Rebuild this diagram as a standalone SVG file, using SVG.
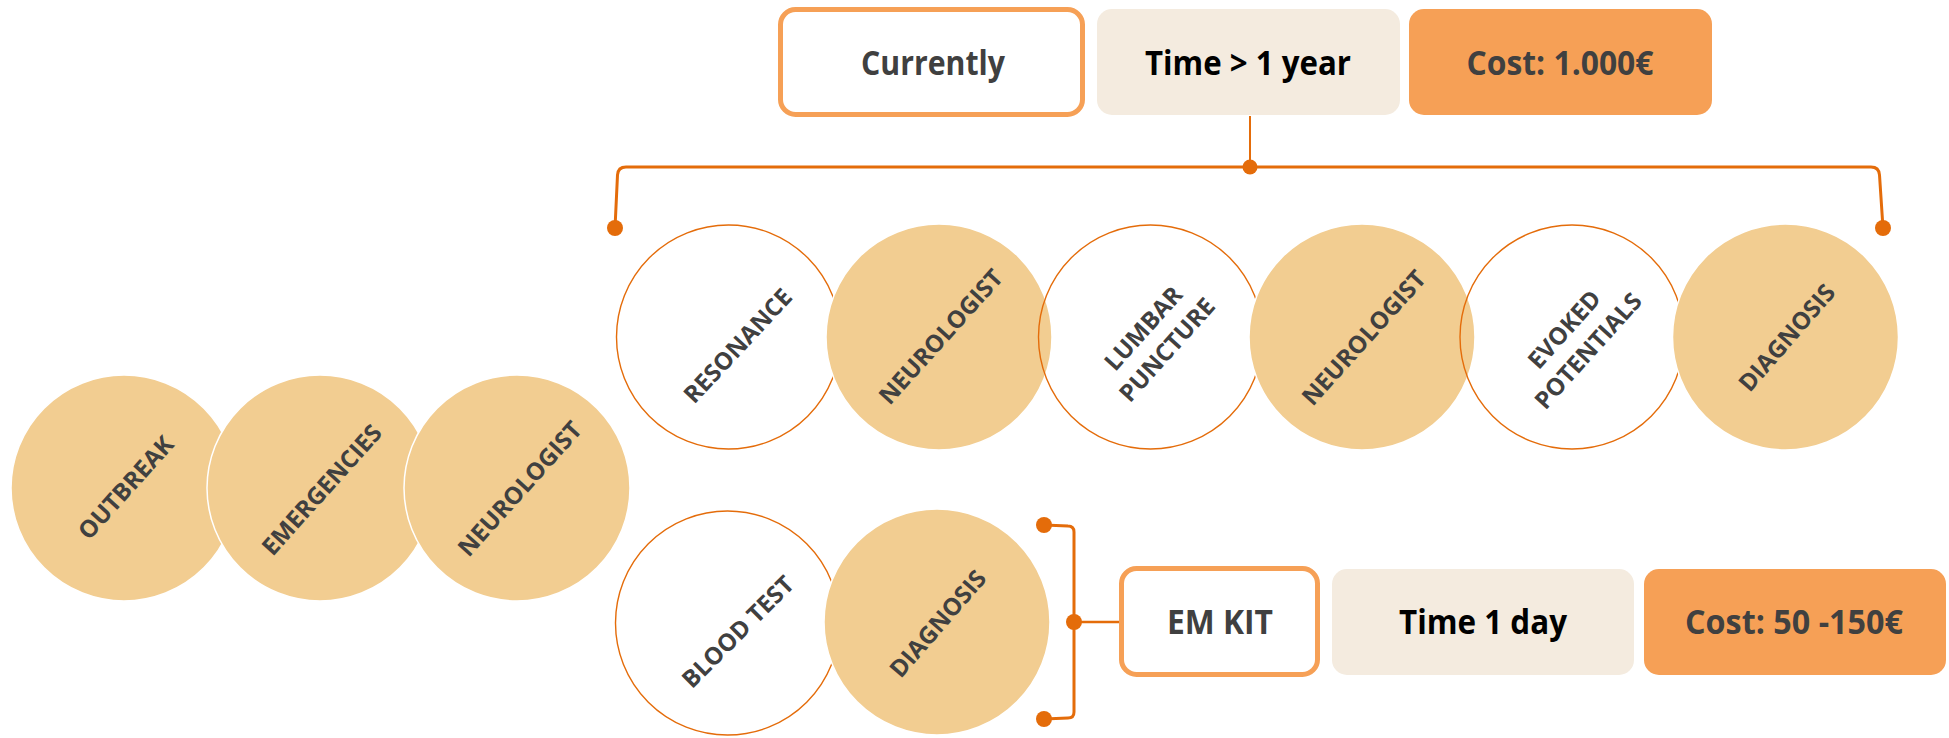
<svg xmlns="http://www.w3.org/2000/svg" width="1949" height="738" viewBox="0 0 1949 738">
<style>
.bg{fill:#ffffff}
.box-outline{fill:#ffffff;stroke:#F6A056;stroke-width:5}
.box-time{fill:#F4EBDF}
.box-cost{fill:#F6A056}
.btxt{font-family:"Open Sans","Liberation Sans",sans-serif;font-weight:700;font-size:34px;text-anchor:middle;fill:#404040}
.btxt.k{fill:#000000}
.cfill{fill:#F2CD91;stroke:#ffffff;stroke-width:1.5}
.cline{fill:none;stroke:#E46C0A;stroke-width:1.4}
.ctxt{font-family:"Open Sans","Liberation Sans",sans-serif;font-weight:700;font-size:24px;text-anchor:middle;dominant-baseline:central;fill:#404040}
.conn{fill:none;stroke:#E46C0A;stroke-width:2.5}
.dot{fill:#E46C0A}
</style>
<rect class="bg" x="0" y="0" width="1949" height="738"/>

<g id="connectors">
  <path class="conn" d="M1250,116 L1250,167" style="stroke-width:2"/>
  <path class="conn" d="M615,228 L617.5,175 Q618,167 626,167 L1871,167 Q1879,167 1879.5,175 L1883,228" style="stroke-width:3"/>
  <circle class="dot" cx="1250" cy="167" r="7.5"/>
  <circle class="dot" cx="615" cy="228" r="8"/>
  <circle class="dot" cx="1883" cy="228" r="8"/>
  <path class="conn" d="M1044,525 L1068,526 Q1074,526 1074,532 L1074,712 Q1074,718 1068,718 L1044,719" style="stroke-width:3"/>
  <path class="conn" d="M1074,622 L1119,622"/>
  <circle class="dot" cx="1044" cy="525" r="8"/>
  <circle class="dot" cx="1044" cy="719" r="8"/>
  <circle class="dot" cx="1074" cy="622" r="8"/>
</g>

<g id="currently">
  <rect class="box-outline" x="780.5" y="9.5" width="302" height="105" rx="15"/>
  <text class="btxt" x="933" y="75" textLength="144" lengthAdjust="spacingAndGlyphs">Currently</text>
</g>
<g id="time-year">
  <rect class="box-time" x="1097" y="9" width="303" height="106" rx="15"/>
  <text class="btxt k" x="1248" y="75" textLength="206" lengthAdjust="spacingAndGlyphs">Time &gt; 1 year</text>
</g>
<g id="cost-1000">
  <rect class="box-cost" x="1409" y="9" width="303" height="106" rx="15"/>
  <text class="btxt" x="1560" y="75" textLength="187" lengthAdjust="spacingAndGlyphs">Cost: 1.000€</text>
</g>

<g id="emkit">
  <rect class="box-outline" x="1121.5" y="568.5" width="196" height="106" rx="15"/>
  <text class="btxt" x="1220" y="634" textLength="106" lengthAdjust="spacingAndGlyphs">EM KIT</text>
</g>
<g id="time-day">
  <rect class="box-time" x="1332" y="569" width="302" height="106" rx="15"/>
  <text class="btxt k" x="1483" y="634" textLength="168" lengthAdjust="spacingAndGlyphs">Time 1 day</text>
</g>
<g id="cost-50">
  <rect class="box-cost" x="1644" y="569" width="302" height="106" rx="15"/>
  <text class="btxt" x="1794" y="634" textLength="218" lengthAdjust="spacingAndGlyphs">Cost: 50 -150€</text>
</g>

<!-- left row -->
<g id="outbreak">
  <circle class="cfill" cx="124" cy="488" r="113"/>
  <text class="ctxt" transform="translate(125,487) rotate(-48)">OUTBREAK</text>
</g>
<g id="emergencies">
  <circle class="cfill" cx="320" cy="488" r="113"/>
  <text class="ctxt" transform="translate(321,489) rotate(-48)">EMERGENCIES</text>
</g>
<g id="neurologist-1">
  <circle class="cfill" cx="517" cy="488" r="113"/>
  <text class="ctxt" transform="translate(519,488) rotate(-48)">NEUROLOGIST</text>
</g>

<!-- top row -->
<g id="resonance">
  <circle class="cline" cx="728.5" cy="337" r="112"/>
  <text class="ctxt" transform="translate(737,345) rotate(-47)">RESONANCE</text>
</g>
<g id="neurologist-2">
  <circle class="cfill" cx="939" cy="337" r="113"/>
  <text class="ctxt" transform="translate(940,336) rotate(-48)">NEUROLOGIST</text>
</g>
<g id="lumbar-puncture">
  <circle class="cline" cx="1150.5" cy="337" r="112"/>
  <text class="ctxt" transform="translate(1154,338) rotate(-48)"><tspan x="0" y="-16">LUMBAR</tspan><tspan x="0" y="16">PUNCTURE</tspan></text>
</g>
<g id="neurologist-3">
  <circle class="cfill" cx="1362" cy="337" r="113"/>
  <text class="ctxt" transform="translate(1363,337) rotate(-48)">NEUROLOGIST</text>
</g>
<g id="evoked-potentials">
  <circle class="cline" cx="1572" cy="337" r="112"/>
  <text class="ctxt" transform="translate(1575,339) rotate(-48)"><tspan x="0" y="-16">EVOKED</tspan><tspan x="0" y="16">POTENTIALS</tspan></text>
</g>
<g id="diagnosis-1">
  <circle class="cfill" cx="1785.5" cy="337" r="113"/>
  <text class="ctxt" transform="translate(1786,337) rotate(-49)">DIAGNOSIS</text>
</g>

<!-- bottom row -->
<g id="blood-test">
  <circle class="cline" cx="727.5" cy="623" r="112"/>
  <text class="ctxt" transform="translate(737,631) rotate(-45)">BLOOD TEST</text>
</g>
<g id="diagnosis-2">
  <circle class="cfill" cx="937" cy="622" r="113"/>
  <text class="ctxt" transform="translate(937,623) rotate(-49)">DIAGNOSIS</text>
</g>
</svg>
